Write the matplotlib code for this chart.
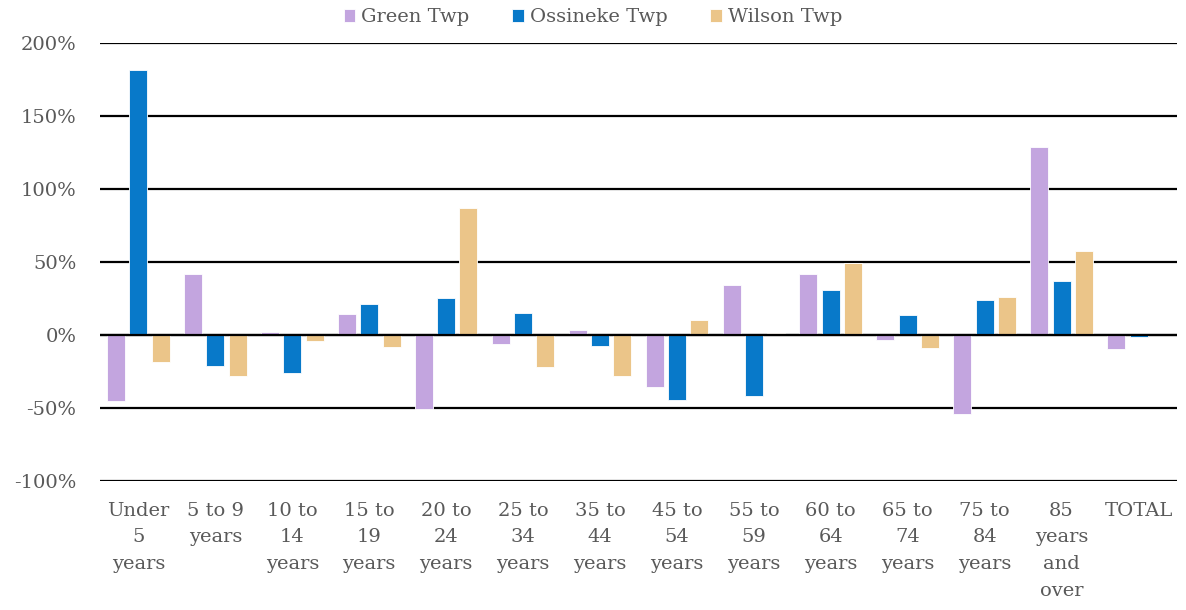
import matplotlib.pyplot as plt
import numpy as np
from matplotlib.ticker import FuncFormatter

# Age groups (wrapped the way the original chart shows them)
categories = ['Under\n5\nyears', '5 to 9\nyears', '10 to\n14\nyears', '15 to\n19\nyears',
              '20 to\n24\nyears', '25 to\n34\nyears', '35 to\n44\nyears', '45 to\n54\nyears',
              '55 to\n59\nyears', '60 to\n64\nyears', '65 to\n74\nyears', '75 to\n84\nyears',
              '85\nyears\nand\nover', 'TOTAL']

# percent change
green_twp = [-45, 42, 1.8, 14.6, -51, -6, 3.5, -35.5, 34.4, 42, -3.6, -54, 128.8, -9.8]
ossineke_twp = [181.5, -21, -26, 21, 25, 15, -7.5, -44.5, -41.5, 31, 13.5, 24, 36.7, -1.4]
wilson_twp = [-18.5, -28, -4, -8, 86.8, -22, -28, 10, 1.4, 49, -9, 26, 57.8, 0.5]

series = [('Green Twp', green_twp, '#c3a5df'),
          ('Ossineke Twp', ossineke_twp, '#0879c9'),
          ('Wilson Twp', wilson_twp, '#ebc589')]

plt.rcParams['font.family'] = ['DejaVu Serif']
text_col = '#595959'

fig = plt.figure(figsize=(11.86, 6.10), dpi=100)
ax = fig.add_axes([0.0843, 0.2115, 0.9081, 0.718])

x = np.arange(len(categories)) + 0.5
width = 0.234
step = 0.29

for i, (name, vals, col) in enumerate(series):
    ax.bar(x + (i - 1) * step, vals, width, color=col, label=name,
           edgecolor='white', linewidth=0.6, zorder=3)

ax.set_xlim(0, len(categories))
ax.set_ylim(-100, 200)
ax.set_yticks(range(-100, 201, 50))
ax.yaxis.set_major_formatter(FuncFormatter(lambda v, p: f'{v:.0f}%'))
ax.grid(axis='y', color='black', linewidth=1.6, zorder=1)
ax.axhline(0, color='black', linewidth=1.6, zorder=4)
ax.set_axisbelow(True)

for s in ax.spines.values():
    s.set_visible(False)

ax.set_xticks(x)
ax.set_xticklabels(categories, linespacing=1.62)
ax.tick_params(axis='both', length=0, labelsize=14, colors=text_col)
ax.tick_params(axis='y', pad=17)
ax.tick_params(axis='x', pad=15)
for lbl in ax.get_xticklabels():
    lbl.set_verticalalignment('top')

leg = fig.legend(loc='upper center', bbox_to_anchor=(0.5, 1.015), ncol=3, frameon=False,
                 fontsize=14, handlelength=0.6, handleheight=0.6, handletextpad=0.3,
                 columnspacing=2.2)
for t in leg.get_texts():
    t.set_color(text_col)

fig.savefig('out.png', dpi=100)
